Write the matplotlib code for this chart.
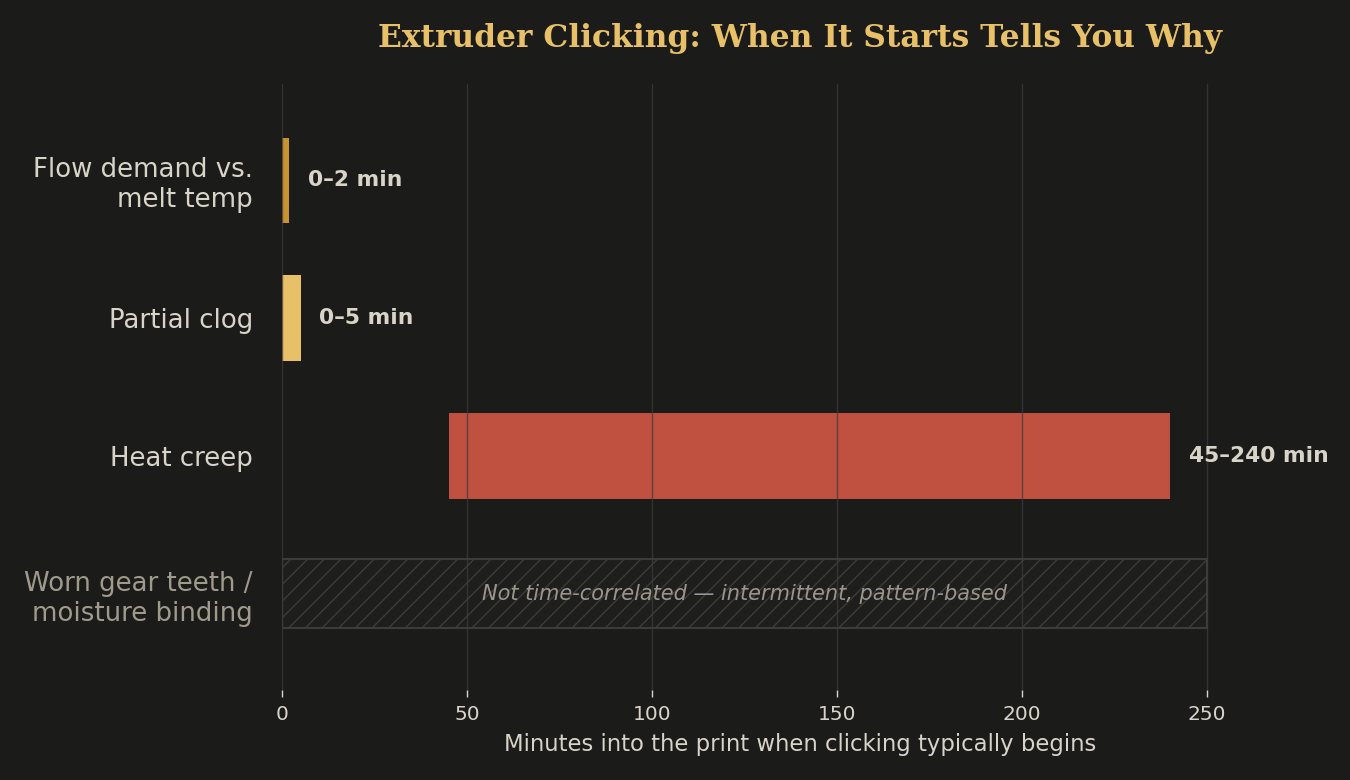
import matplotlib.pyplot as plt

causes = ["Flow demand vs.\nmelt temp", "Partial clog", "Heat creep",
          "Worn gear teeth /\nmoisture binding"]
start_min = [0, 0, 45]
end_min = [2, 5, 240]
range_labels = ["0\u20132 min", "0\u20135 min", "45\u2013240 min"]
bar_colors = ["#c8922e", "#e8c068", "#c05040"]
untimed_span = 250
untimed_note = "Not time-correlated \u2014 intermittent, pattern-based"
xticks = [0, 50, 100, 150, 200, 250]

bg = "#1b1b19"
fig = plt.figure(figsize=(13.5, 7.8), dpi=100, facecolor=bg)
ax = fig.add_axes([0.2089, 0.1154, 0.7674, 0.7769], facecolor=bg)

ypos = list(range(len(causes)))

# timed causes
for i in range(len(start_min)):
    ax.barh(ypos[i], end_min[i] - start_min[i], left=start_min[i], height=0.62,
            color=bar_colors[i], zorder=1)
    ax.text(end_min[i] + 5.0, ypos[i], range_labels[i], va="center", ha="left",
            fontsize=15.7, fontweight="bold", color="#d8d4c8", zorder=4)

# the one that isn't tied to time
ax.barh(ypos[3], untimed_span, left=0, height=0.5, facecolor="#1e1e1c",
        edgecolor="#3c3c3a", hatch="//", linewidth=1.5, zorder=1)
ax.text(untimed_span / 2, ypos[3], untimed_note, ha="center", va="center",
        fontsize=15, style="italic", color="#9a968a", zorder=4)

ax.set_xlim(0, 280)
ax.set_ylim(3.7, -0.7)
ax.set_xticks(xticks)
ax.set_yticks(ypos)
ax.set_yticklabels(causes, fontsize=18.7)
for i, lab in enumerate(ax.get_yticklabels()):
    lab.set_color("#a09a8c" if i == 3 else "#d8d4c8")

ax.tick_params(axis="y", length=0, pad=21)
ax.tick_params(axis="x", length=5, width=1, color="#d8d4c8", labelcolor="#d8d4c8",
               labelsize=14.5, pad=6)
ax.grid(axis="x", color="#3c3c3c", alpha=0.75, linewidth=1, zorder=2)
ax.set_axisbelow(False)
for s in ax.spines.values():
    s.set_visible(False)

ax.set_xlabel("Minutes into the print when clicking typically begins",
              fontsize=16.4, color="#d8d4c8", labelpad=6)
ax.set_title("Extruder Clicking: When It Starts Tells You Why", fontsize=22.5,
             fontweight="bold", family="DejaVu Serif", color="#e8c068", pad=27)

fig.savefig("out.png", dpi=100, facecolor=bg)
